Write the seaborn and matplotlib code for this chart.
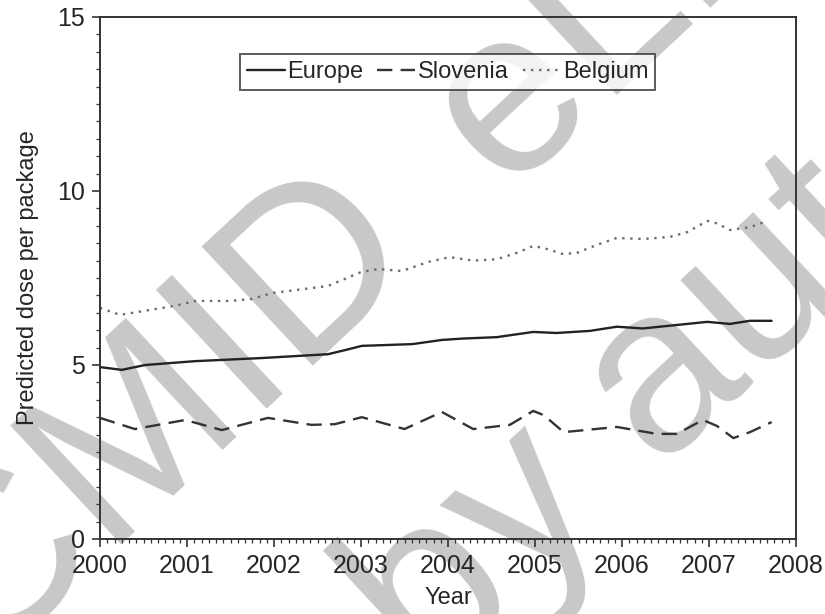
import matplotlib
matplotlib.use('Agg')
import matplotlib.pyplot as plt
import seaborn as sns
import pandas as pd
from matplotlib.ticker import MultipleLocator

# values (decimal years)
europe_x = [2000.0, 2000.25, 2000.52, 2001.09, 2001.86, 2002.62, 2002.82, 2003.01, 2003.59, 2003.93,
            2004.17, 2004.56, 2004.98, 2005.25, 2005.63, 2005.94, 2006.24, 2006.63, 2006.98, 2007.24,
            2007.47, 2007.72]
europe_y = [4.94, 4.86, 5.0, 5.11, 5.2, 5.31, 5.43, 5.55, 5.6, 5.72,
            5.76, 5.8, 5.95, 5.92, 5.98, 6.1, 6.05, 6.15, 6.24, 6.18,
            6.27, 6.27]

slovenia_x = [2000.0, 2000.4, 2000.98, 2001.4, 2001.93, 2002.43, 2002.7, 2003.01, 2003.5, 2003.93,
              2004.29, 2004.71, 2004.98, 2005.1, 2005.33, 2005.94, 2006.4, 2006.63, 2006.93, 2007.09,
              2007.28, 2007.47, 2007.72]
slovenia_y = [3.48, 3.16, 3.42, 3.13, 3.48, 3.28, 3.3, 3.5, 3.16, 3.65,
              3.16, 3.28, 3.68, 3.56, 3.07, 3.22, 3.02, 3.02, 3.42, 3.25,
              2.9, 3.07, 3.36]

belgium_x = [2000.0, 2000.23, 2000.86, 2001.1, 2001.5, 2001.75, 2001.98, 2002.24, 2002.62, 2003.0,
             2003.2, 2003.47, 2003.77, 2004.02, 2004.29, 2004.56, 2004.79, 2004.98, 2005.1, 2005.32,
             2005.48, 2005.71, 2005.94, 2006.24, 2006.55, 2006.75, 2006.98, 2007.09, 2007.24, 2007.47,
             2007.67]
belgium_y = [6.64, 6.44, 6.7, 6.84, 6.84, 6.9, 7.07, 7.15, 7.27, 7.67,
             7.76, 7.7, 7.96, 8.1, 8.0, 8.04, 8.22, 8.42, 8.36, 8.19,
             8.22, 8.45, 8.65, 8.62, 8.68, 8.82, 9.14, 9.07, 8.88, 8.96,
             9.14]

df = pd.concat([
    pd.DataFrame({'year': europe_x, 'dose': europe_y, 'series': 'Europe'}),
    pd.DataFrame({'year': slovenia_x, 'dose': slovenia_y, 'series': 'Slovenia'}),
    pd.DataFrame({'year': belgium_x, 'dose': belgium_y, 'series': 'Belgium'}),
])

sns.set_style('ticks')
plt.rcParams['font.family'] = ['Liberation Sans', 'DejaVu Sans']

W, H = 825, 614
fig = plt.figure(figsize=(8.25, 6.14), dpi=100)
fig.patch.set_facecolor('white')
ax = fig.add_axes([100/W, 1-539/H, 696/W, 522/H])
ax.set_facecolor('none')

# grey watermark behind the plot
wm = dict(transform=fig.transFigure, rotation=43, rotation_mode='anchor', ha='left',
          va='baseline', fontsize=170, color='#c8c8c8', zorder=-10)
fig.text(-20/W, 1-666/H, 'CMID', **wm)
fig.text(504/W, 1-190/H, 'eLib', **wm)
fig.text(429/W, 1-686/H, 'by aut', **wm)

sns.lineplot(data=df, x='year', y='dose', hue='series', style='series',
             palette={'Europe': '#222222', 'Slovenia': '#333333', 'Belgium': '#6a6a6a'},
             dashes={'Europe': '', 'Slovenia': (6.5, 3.5), 'Belgium': (1, 2.4)},
             linewidth=1.7, ax=ax, legend=True)

ax.set_xlim(2000, 2008)
ax.set_ylim(0, 15)
ax.xaxis.set_major_locator(MultipleLocator(1))
ax.xaxis.set_minor_locator(MultipleLocator(1/12))
ax.yaxis.set_major_locator(MultipleLocator(5))
ax.yaxis.set_minor_locator(MultipleLocator(0.5))
ax.tick_params(which='major', length=6, width=1.2, labelsize=18, color='#333333', pad=5)
ax.tick_params(which='minor', length=3, width=0.9, color='#333333')
for s in ax.spines.values():
    s.set_visible(True)
    s.set_color('#333333')
    s.set_linewidth(1.4)

ax.set_xlabel('Year', fontsize=17, labelpad=6)
ax.set_ylabel('Predicted dose per package', fontsize=17, labelpad=13)

leg = ax.legend(loc='upper left', bbox_to_anchor=(0.201, 0.929), ncol=3, fontsize=17,
                frameon=True, fancybox=False, edgecolor='#333333', handlelength=1.6,
                handletextpad=0.1, columnspacing=0.6, borderpad=0.3, borderaxespad=0)
leg.get_frame().set_linewidth(1.4)

fig.savefig('out.png', dpi=100, facecolor='white')
